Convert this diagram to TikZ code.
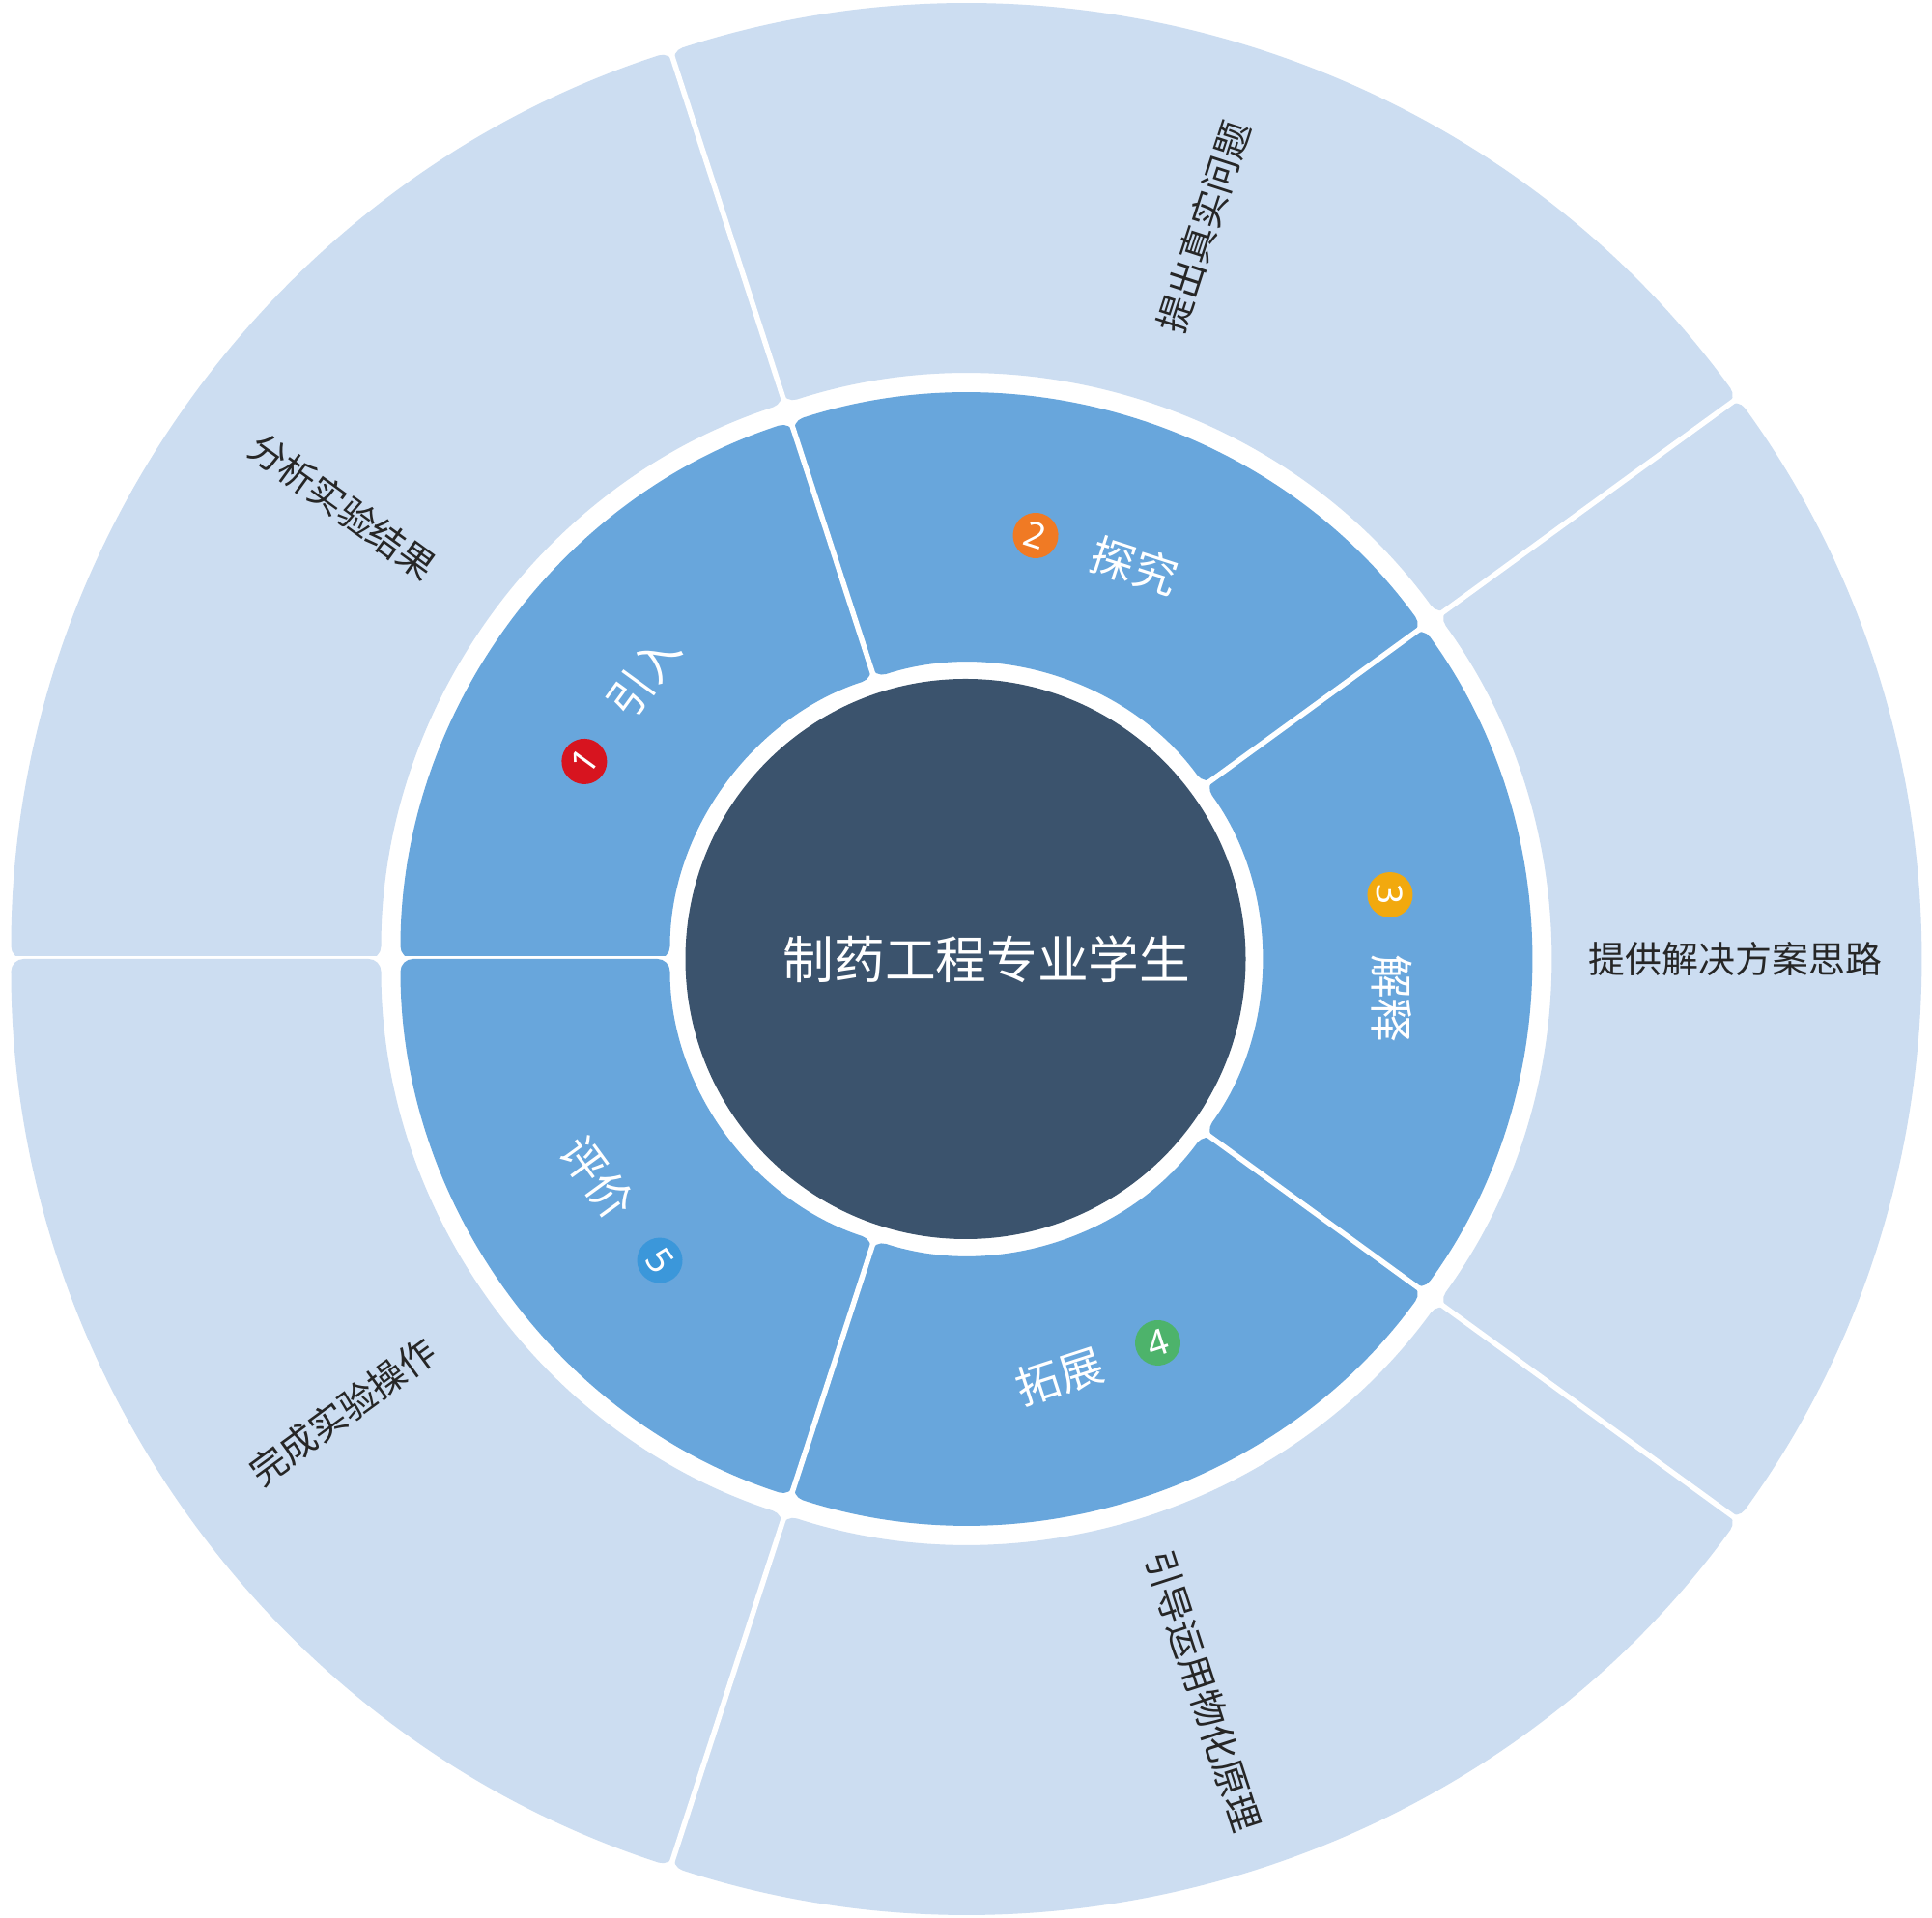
\documentclass[tikz,border=0pt]{standalone}
\usepackage{fontspec}
\setmainfont{Noto Sans CJK SC}
\newfontfamily\cjk{Noto Sans CJK SC}
\newfontfamily\numfont{Noto Sans}
\definecolor{outerc}{HTML}{CCDDF1}
\definecolor{innerc}{HTML}{68A6DC}
\definecolor{darkc}{HTML}{3B536D}
\definecolor{txtc}{HTML}{262626}
\definecolor{b1}{HTML}{D7141F}
\definecolor{b2}{HTML}{F07A24}
\definecolor{b3}{HTML}{F2A90E}
\definecolor{b4}{HTML}{4DB36B}
\definecolor{b5}{HTML}{3B97DA}
\tikzset{
  outerseg/.style={fill=outerc, rounded corners=0.13cm},
  innerseg/.style={fill=innerc, rounded corners=0.13cm},
  gapline/.style={draw=white, line width=0.055cm},
  innerlabel/.style={text=white, font=\cjk\fontsize{13pt}{13pt}\selectfont, inner sep=0pt},
  outerlabel/.style={text=txtc, font=\cjk\fontsize{10.8pt}{10.8pt}\selectfont, inner sep=0pt},
  badge/.style={circle, minimum size=0.47cm, inner sep=0pt, text=white, font=\numfont\bfseries\fontsize{10.5pt}{10.5pt}\selectfont},
}
\begin{document}
\begin{tikzpicture}
\useasboundingbox (0,0) rectangle (20,19.86);
\fill[white] (0,0) rectangle (20,19.86);
\begin{scope}[shift={(9.995,9.93)}]
% rings
\foreach \a [evaluate=\a as \b using \a-72] in {180,108,36,-36,-108} {
  \path[outerseg] (\a:6.05) arc[start angle=\a, end angle=\b, radius=6.05]
    -- (\b:9.88) arc[start angle=\b, end angle=\a, radius=9.88] -- cycle;
  \path[innerseg] (\a:3.06) arc[start angle=\a, end angle=\b, radius=3.06]
    -- (\b:5.85) arc[start angle=\b, end angle=\a, radius=5.85] -- cycle;
  \draw[gapline] (\a:3.0) -- (\a:5.9);
  \draw[gapline] (\a:6.0) -- (\a:9.95);
}
% centre
\fill[darkc] (0,0) circle[radius=2.90];
\node[text=white, font=\cjk\fontsize{15pt}{15pt}\selectfont, inner sep=0pt] (center) at (0.22,0) {制药工程专业学生};
% inner labels
\node[badge, fill=b1, rotate=54] (n1) at (152.6:4.445) {1};
\node[innerlabel, rotate=54] (l1) at (138.7:4.43) {引入};
\node[badge, fill=b2, rotate=-18] (n2) at (80.6:4.445) {2};
\node[innerlabel, rotate=-18] (l2) at (66.7:4.43) {探究};
\node[badge, fill=b3, rotate=-90] (n3) at (8.6:4.445) {3};
\node[innerlabel, rotate=-90] (l3) at (-5.3:4.43) {解释};
\node[badge, fill=b4, rotate=18] (n4) at (-63.4:4.445) {4};
\node[innerlabel, rotate=18] (l4) at (-77.3:4.43) {拓展};
\node[badge, fill=b5, rotate=-54] (n5) at (-135.4:4.445) {5};
\node[innerlabel, rotate=-54] (l5) at (-149.3:4.43) {评价};
% outer labels
\node[outerlabel, rotate=-36] (o1) at (144:7.97) {分析实验结果};
\node[outerlabel, rotate=72] (o2) at (72:7.97) {提出真实问题};
\node[outerlabel] (o3) at (0:7.97) {提供解决方案思路};
\node[outerlabel, rotate=-72] (o4) at (-72:7.97) {引导运用物化原理};
\node[outerlabel, rotate=36] (o5) at (-144:7.97) {完成实验操作};
\end{scope}
\end{tikzpicture}
\end{document}
